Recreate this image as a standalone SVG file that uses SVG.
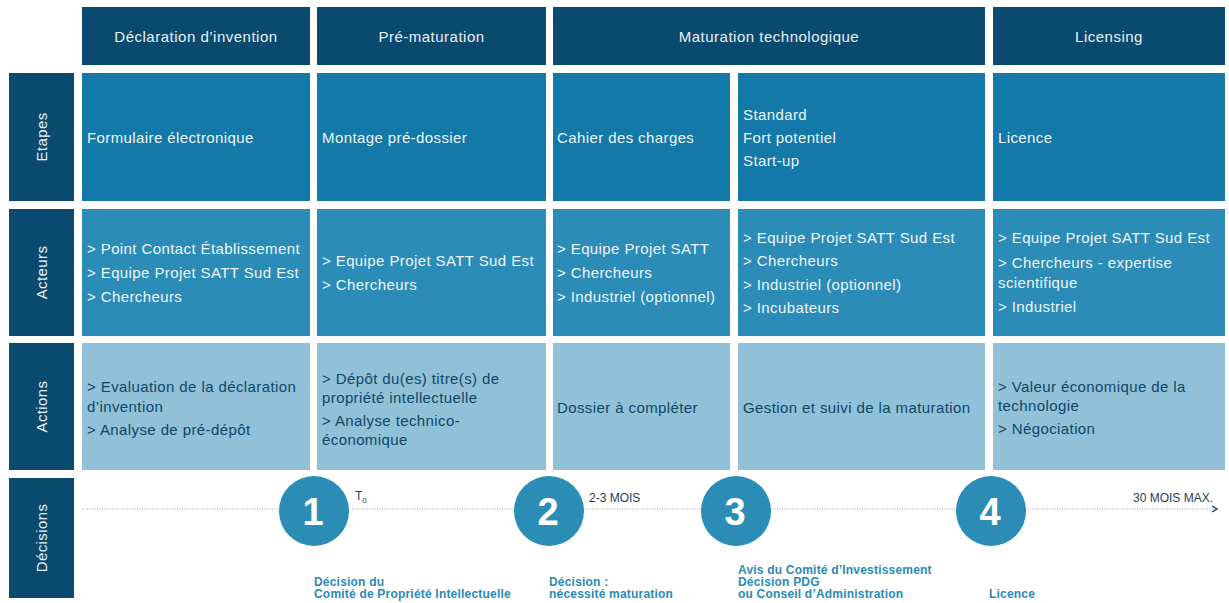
<svg xmlns="http://www.w3.org/2000/svg" width="1229" height="603" viewBox="0 0 1229 603">
<defs>
<style>
.hdr{fill:#0a4a6e}
.lbl{fill:#0a4a6e}
.etp{fill:#1279a8}
.act{fill:#2b8cb8}
.acn{fill:#90c1d9}
text{font-family:"Liberation Sans",Arial,sans-serif}
.ht{fill:#e8f0f5;font-size:15px;letter-spacing:0.5px;text-anchor:middle}
.lt{fill:#e8f0f5;font-size:15px;letter-spacing:0.4px;text-anchor:middle}
.wt{fill:#eef5f9;font-size:15px;letter-spacing:0.4px}
.dt{fill:#0f4766;font-size:15px;letter-spacing:0.4px}
.circ{fill:#2b8db6}
.num{fill:#ffffff;font-size:38px;font-weight:bold;text-anchor:middle}
.tl{fill:#1d3f5a;font-size:12px}
.dec{fill:#2a8ab8;font-size:12px;font-weight:bold;letter-spacing:0.2px}
</style>
<marker id="chev" viewBox="0 0 8 8" refX="6" refY="4" markerWidth="8" markerHeight="8" markerUnits="userSpaceOnUse" orient="auto">
<path d="M1,1 L6,4 L1,7" fill="none" stroke="#1d3f5a" stroke-width="1.4"/>
</marker>
</defs>
<rect width="1229" height="603" fill="#ffffff"/>

<!-- Header row -->
<g id="h-declaration"><rect class="hdr" x="82" y="7" width="228" height="58"/><text class="ht" x="196" y="42">Déclaration d’invention</text></g>
<g id="h-prematuration"><rect class="hdr" x="317" y="7" width="229" height="58"/><text class="ht" x="431.5" y="42">Pré-maturation</text></g>
<g id="h-maturation"><rect class="hdr" x="553" y="7" width="432" height="58"/><text class="ht" x="769" y="42">Maturation technologique</text></g>
<g id="h-licensing"><rect class="hdr" x="993" y="7" width="232" height="58"/><text class="ht" x="1109" y="42">Licensing</text></g>

<!-- Row labels -->
<g id="l-etapes"><rect class="lbl" x="9" y="73" width="65" height="128"/><text class="lt" transform="translate(47,137) rotate(-90)">Etapes</text></g>
<g id="l-acteurs"><rect class="lbl" x="9" y="209" width="65" height="127"/><text class="lt" transform="translate(47,272.5) rotate(-90)">Acteurs</text></g>
<g id="l-actions"><rect class="lbl" x="9" y="343" width="65" height="127"/><text class="lt" transform="translate(47,406.5) rotate(-90)">Actions</text></g>
<g id="l-decisions"><rect class="lbl" x="9" y="478" width="65" height="120"/><text class="lt" transform="translate(47,538) rotate(-90)">Décisions</text></g>

<!-- Etapes -->
<g id="e1"><rect class="etp" x="82" y="73" width="228" height="128"/><text class="wt" x="87" y="143">Formulaire électronique</text></g>
<g id="e2"><rect class="etp" x="317" y="73" width="229" height="128"/><text class="wt" x="322" y="143">Montage pré-dossier</text></g>
<g id="e3"><rect class="etp" x="553" y="73" width="177" height="128"/><text class="wt" x="557" y="143">Cahier des charges</text></g>
<g id="e4"><rect class="etp" x="738" y="73" width="247" height="128"/><text class="wt" x="743" y="120">Standard</text><text class="wt" x="743" y="143">Fort potentiel</text><text class="wt" x="743" y="166">Start-up</text></g>
<g id="e5"><rect class="etp" x="993" y="73" width="232" height="128"/><text class="wt" x="998" y="143">Licence</text></g>

<!-- Acteurs -->
<g id="a1"><rect class="act" x="82" y="209" width="228" height="127"/><text class="wt" x="87" y="254">&gt; Point Contact Établissement</text><text class="wt" x="87" y="278">&gt; Equipe Projet SATT Sud Est</text><text class="wt" x="87" y="302">&gt; Chercheurs</text></g>
<g id="a2"><rect class="act" x="317" y="209" width="229" height="127"/><text class="wt" x="322" y="266">&gt; Equipe Projet SATT Sud Est</text><text class="wt" x="322" y="290">&gt; Chercheurs</text></g>
<g id="a3"><rect class="act" x="553" y="209" width="177" height="127"/><text class="wt" x="557" y="254">&gt; Equipe Projet SATT</text><text class="wt" x="557" y="278">&gt; Chercheurs</text><text class="wt" x="557" y="302">&gt; Industriel (optionnel)</text></g>
<g id="a4"><rect class="act" x="738" y="209" width="247" height="127"/><text class="wt" x="743" y="243">&gt; Equipe Projet SATT Sud Est</text><text class="wt" x="743" y="266">&gt; Chercheurs</text><text class="wt" x="743" y="290">&gt; Industriel (optionnel)</text><text class="wt" x="743" y="313">&gt; Incubateurs</text></g>
<g id="a5"><rect class="act" x="993" y="209" width="232" height="127"/><text class="wt" x="998" y="243">&gt; Equipe Projet SATT Sud Est</text><text class="wt" x="998" y="268">&gt; Chercheurs - expertise</text><text class="wt" x="998" y="288">scientifique</text><text class="wt" x="998" y="312">&gt; Industriel</text></g>

<!-- Actions -->
<g id="c1"><rect class="acn" x="82" y="343" width="228" height="127"/><text class="dt" x="87" y="392">&gt; Evaluation de la déclaration</text><text class="dt" x="87" y="412">d’invention</text><text class="dt" x="87" y="435">&gt; Analyse de pré-dépôt</text></g>
<g id="c2"><rect class="acn" x="317" y="343" width="229" height="127"/><text class="dt" x="322" y="384">&gt; Dépôt du(es) titre(s) de</text><text class="dt" x="322" y="403">propriété intellectuelle</text><text class="dt" x="322" y="426">&gt; Analyse technico-</text><text class="dt" x="322" y="445">économique</text></g>
<g id="c3"><rect class="acn" x="553" y="343" width="177" height="127"/><text class="dt" x="557" y="413">Dossier à compléter</text></g>
<g id="c4"><rect class="acn" x="738" y="343" width="247" height="127"/><text class="dt" x="743" y="413">Gestion et suivi de la maturation</text></g>
<g id="c5"><rect class="acn" x="993" y="343" width="232" height="127"/><text class="dt" x="998" y="392">&gt; Valeur économique de la</text><text class="dt" x="998" y="411">technologie</text><text class="dt" x="998" y="434">&gt; Négociation</text></g>

<!-- Connectors: timeline -->
<g id="connectors">
<line x1="82" y1="509" x2="1217" y2="509" stroke="#9aa4ab" stroke-width="1" stroke-dasharray="1 1.5" marker-end="url(#chev)"/>
</g>

<!-- Decisions -->
<g id="d1"><circle class="circ" cx="314" cy="511" r="35"/><text class="num" x="313" y="525">1</text><text class="dec" x="314" y="586">Décision du</text><text class="dec" x="314" y="598">Comité de Propriété Intellectuelle</text></g>
<g id="d2"><circle class="circ" cx="549" cy="511" r="35"/><text class="num" x="548" y="525">2</text><text class="dec" x="549" y="586">Décision :</text><text class="dec" x="549" y="598">nécessité maturation</text></g>
<g id="d3"><circle class="circ" cx="736" cy="511" r="35"/><text class="num" x="735" y="525">3</text><text class="dec" x="738" y="574">Avis du Comité d’Investissement</text><text class="dec" x="738" y="586">Décision PDG</text><text class="dec" x="738" y="598">ou Conseil d’Administration</text></g>
<g id="d4"><circle class="circ" cx="991" cy="511" r="35"/><text class="num" x="990" y="525">4</text><text class="dec" x="989" y="598">Licence</text></g>

<g id="timeline-labels">
<text class="tl" x="355" y="500">T<tspan font-size="8" dy="3">0</tspan></text>
<text class="tl" x="589" y="502">2-3 MOIS</text>
<text class="tl" x="1213" y="502" text-anchor="end">30 MOIS MAX.</text>
</g>
</svg>
